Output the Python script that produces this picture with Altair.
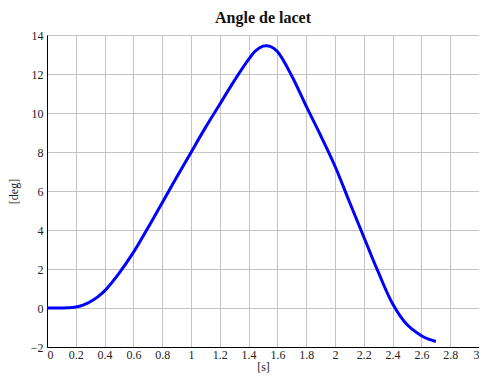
import altair as alt
import pandas as pd

t_s = [0, 0.1, 0.15, 0.2, 0.25, 0.3, 0.35, 0.4, 0.5, 0.6, 0.7, 0.8, 0.9, 1.0,
       1.1, 1.2, 1.3, 1.4, 1.45, 1.5, 1.55, 1.6, 1.7, 1.8, 1.9, 2.0, 2.1, 2.2,
       2.3, 2.4, 2.5, 2.6, 2.65, 2.7]
yaw_deg = [0, 0, 0.01, 0.05, 0.15, 0.32, 0.56, 0.88, 1.78, 2.85, 4.1, 5.4, 6.7,
           7.98, 9.25, 10.45, 11.65, 12.75, 13.2, 13.43, 13.42, 13.15, 11.9,
           10.35, 8.85, 7.27, 5.45, 3.64, 1.85, 0.22, -0.85, -1.42, -1.6, -1.72]

x_ticks = [round(0.2 * i, 1) for i in range(16)]
y_ticks = list(range(-2, 15, 2))

df = pd.DataFrame({"t": t_s, "yaw": yaw_deg})

FONT = "Liberation Serif"

chart = alt.Chart(df).mark_line(
    color="#0000ff", strokeWidth=3, interpolate="catmull-rom"
).encode(
    x=alt.X("t:Q", scale=alt.Scale(domain=[0, 3], nice=False),
            axis=alt.Axis(values=x_ticks, format=".1~f", title="[s]",
                          titlePadding=1, labelPadding=2)),
    y=alt.Y("yaw:Q", scale=alt.Scale(domain=[-2, 14], nice=False),
            axis=alt.Axis(values=y_ticks, format="d", title="[deg]",
                          titlePadding=10, labelPadding=4)),
).properties(
    width=432, height=312,
    title=alt.TitleParams("Angle de lacet", font=FONT, fontSize=16,
                          fontWeight="bold", color="#111", offset=3),
    autosize=alt.AutoSizeParams(type="none"),
    padding={"left": 39, "top": 27, "right": 0, "bottom": 28},
).configure_view(
    stroke="black", strokeWidth=1
).configure_axis(
    grid=True, gridColor="#c4c4c4", gridWidth=1,
    domainColor="black", domainWidth=1,
    ticks=False,
    labelFont=FONT, labelFontSize=12, labelColor="#222",
    titleFont=FONT, titleFontSize=12, titleColor="#222", titleFontWeight="normal",
)

chart.save("out.html", embed_options={"renderer": "svg", "actions": False})
